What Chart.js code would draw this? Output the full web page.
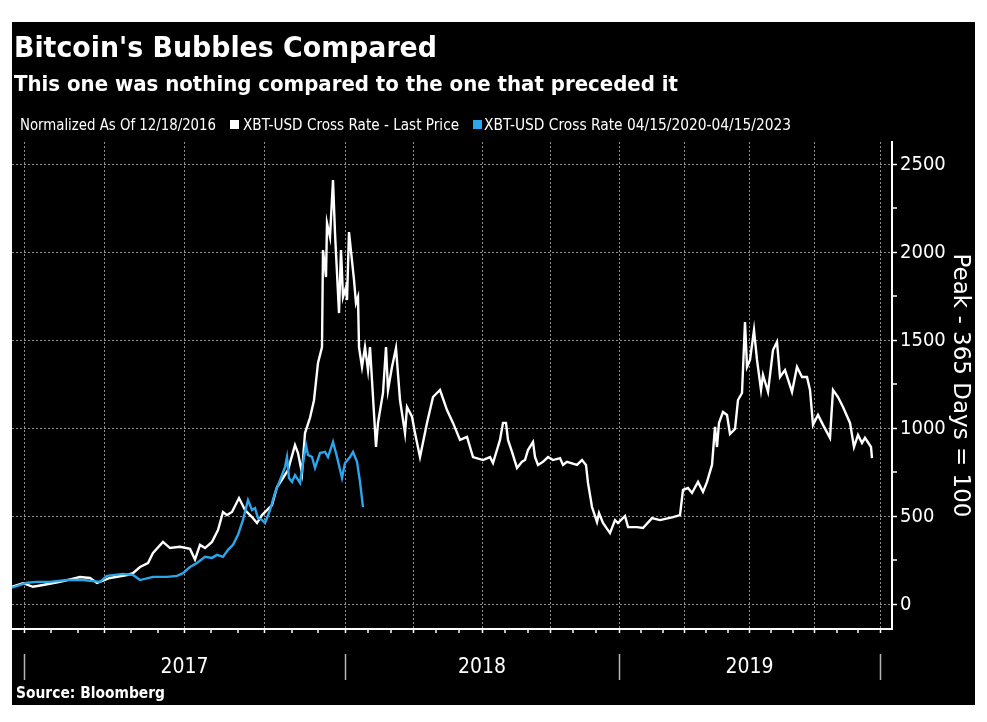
<!DOCTYPE html>
<html><head><meta charset="utf-8">
<script src="https://cdn.jsdelivr.net/npm/chart.js@4.4.1/dist/chart.umd.min.js"></script>
<style>
html,body{margin:0;padding:0;background:#fff;}
#wrap{position:relative;width:987px;height:722px;overflow:hidden;}
canvas{position:absolute;left:0;top:0;}
.t{position:absolute;white-space:nowrap;color:#fff;font-family:'DejaVu Sans Condensed','DejaVu Sans',sans-serif;line-height:1;transform-origin:0 0;}
.box{position:absolute;width:9px;height:9px;}
</style></head><body>
<div id="wrap">
<canvas id="c" width="987" height="722"></canvas>
<div class="t fit" data-w="423" style="left:14px;top:32.5px;font-size:29px;font-weight:bold;">Bitcoin's Bubbles Compared</div>
<div class="t fit" data-w="664" style="left:14px;top:72.5px;font-size:21.5px;font-weight:bold;">This one was nothing compared to the one that preceded it</div>
<div class="t fit" data-w="196" style="left:20px;top:116.5px;font-size:16px;">Normalized As Of 12/18/2016</div>
<div class="box" style="left:230px;top:120px;background:#fff;"></div>
<div class="t fit" data-w="216" style="left:243px;top:116.5px;font-size:16px;">XBT-USD Cross Rate - Last Price</div>
<div class="box" style="left:473px;top:120px;background:#2ba5ec;"></div>
<div class="t fit" data-w="307" style="left:484px;top:116.5px;font-size:16px;">XBT-USD Cross Rate 04/15/2020-04/15/2023</div>
<div class="t fit" data-w="149" style="left:16px;top:685.5px;font-size:15px;font-weight:bold;">Source: Bloomberg</div>
</div>
<script>
// ---- data ----
const yearLabels = ['2017', '2018', '2019'];
// observation positions of Jan 1 2017, 2018, 2019, 2020 on the (observation-based) x axis
const yearStarts = [12, 333, 607, 868];
const xMax = 880;
const yTicks = [0, 250, 500, 750, 1000, 1250, 1500, 1750, 2000, 2250, 2500];

const whiteX = [0,11,21,31,48,68,78,85,98,115,121,128,136,141,151,158,168,178,183,188,193,200,206,211,215,220,227,233,240,245,250,260,265,271,276,283,286,290,293,298,302,306,310,311,314,315,318,321,323,327,329,331,334,335,337,342,344,346,347,350,353,356,358,364,366,371,374,376,380,384,388,393,395,400,403,408,415,421,428,435,441,448,455,461,471,478,481,488,491,494,496,500,505,510,513,516,521,523,526,531,536,541,548,551,555,565,570,574,576,580,585,587,591,598,603,606,613,616,625,631,640,648,661,668,671,676,680,686,691,695,700,703,705,707,711,715,718,723,726,730,733,735,738,742,745,749,751,756,761,765,768,773,780,785,790,795,798,801,806,811,818,821,826,831,838,842,846,850,853,859,860];
const whiteY = [100,120,100,110,128,155,150,122,150,167,177,212,235,292,355,320,327,315,255,338,320,355,422,525,507,525,604,536,496,462,507,564,667,718,763,905,860,746,973,1060,1160,1372,1462,2013,1860,2166,2087,2411,2110,1655,2013,1746,1803,1729,2115,1843,1712,1746,1462,1349,1462,1331,1462,894,1031,1201,1462,1218,1349,1456,1161,973,1121,1066,973,837,1031,1178,1218,1104,1031,934,951,837,820,837,803,934,1031,1031,934,866,775,810,820,877,923,837,792,810,837,820,831,792,810,792,820,792,690,553,468,519,462,405,479,462,502,439,439,434,490,479,496,507,650,661,633,696,639,696,792,1008,894,1031,1093,1076,968,996,1161,1201,1604,1349,1389,1559,1389,1218,1303,1207,1445,1491,1292,1331,1207,1349,1292,1292,1218,1020,1076,1020,946,1218,1178,1121,1031,894,963,917,946,894,831];

const blueX = [0,15,25,38,55,71,88,95,111,121,128,141,155,165,171,178,185,193,200,205,211,216,221,226,231,236,240,243,246,250,253,258,263,268,273,275,277,280,283,288,291,294,296,300,303,308,313,316,321,325,330,333,338,341,345,348,351];
const blueY = [95,123,128,128,138,138,128,162,173,167,138,156,156,162,177,212,235,270,264,281,270,310,338,395,480,592,536,547,490,480,462,536,633,706,780,837,718,696,735,690,803,905,849,837,775,860,866,837,923,837,718,803,837,866,810,696,553];

// ---- chart ----
const monthTicks = [];
for (let y = 0; y < yearLabels.length; y++) {
  const span = (yearStarts[y + 1] - yearStarts[y]) / 12;
  for (let m = 0; m < 12; m++) monthTicks.push({ value: yearStarts[y] + m * span, q: m % 3 === 0 });
}
monthTicks.push({ value: yearStarts[yearStarts.length - 1], q: true });

const toPts = (xs, ys) => xs.map((x, i) => ({ x: x, y: ys[i] }));
const GRID = '#8f8f8f';
const narrow = "'Liberation Sans Narrow','DejaVu Sans Condensed',sans-serif";

const bgPlugin = {
  id: 'bg',
  beforeDraw(chart) {
    const c = chart.ctx;
    c.save();
    c.fillStyle = '#fff';
    c.fillRect(0, 0, chart.width, chart.height);
    c.fillStyle = '#000';
    c.fillRect(12, 22, 963, 683);
    c.restore();
  },
  afterDraw(chart) {
    const c = chart.ctx, sx = chart.scales.x, sy = chart.scales.years;
    c.save();
    c.strokeStyle = '#b5b5b5';
    c.lineWidth = 1.5;
    yearStarts.forEach(v => {
      const px = Math.round(sx.getPixelForValue(v)) + 0.5;
      c.beginPath();
      c.moveTo(px, sy.top + 3);
      c.lineTo(px, sy.top + 29);
      c.stroke();
    });
    c.restore();
  }
};

new Chart(document.getElementById('c'), {
  type: 'line',
  data: {
    datasets: [
      { label: 'XBT-USD Cross Rate - Last Price', data: toPts(whiteX, whiteY), borderColor: '#ffffff', borderWidth: 2.4, pointRadius: 0, tension: 0, order: 1 },
      { label: 'XBT-USD Cross Rate 04/15/2020-04/15/2023', data: toPts(blueX, blueY), borderColor: '#2ba5ec', borderWidth: 2.4, pointRadius: 0, tension: 0, order: 0 }
    ]
  },
  options: {
    responsive: false,
    animation: false,
    devicePixelRatio: 1,
    layout: { padding: { left: 12, right: 12, top: 142, bottom: 0 } },
    plugins: { legend: { display: false }, tooltip: { enabled: false } },
    scales: {
      x: {
        type: 'linear', min: 0, max: xMax, position: 'bottom', weight: 0,
        afterBuildTicks: s => { s.ticks = monthTicks.map(t => ({ value: t.value })); },
        afterFit: s => { s.height = 22; },
        ticks: { display: false },
        grid: {
          lineWidth: ctx => (monthTicks[ctx.index] && monthTicks[ctx.index].q) ? 1 : 0,
          color: GRID, tickColor: '#ffffff', tickWidth: 1.5, tickLength: 4
        },
        border: { display: true, color: '#ffffff', width: 2, dash: [2, 2] }
      },
      years: {
        type: 'linear', min: 0, max: xMax, position: 'bottom', weight: 1,
        afterBuildTicks: s => { s.ticks = yearLabels.map((l, i) => ({ value: (yearStarts[i] + yearStarts[i + 1]) / 2 })); },
        afterFit: s => { s.height = 71; },
        ticks: { callback: (v, i) => yearLabels[i], color: '#ffffff', font: { family: narrow, size: 21 }, padding: 4, autoSkip: false, maxRotation: 0 },
        grid: { display: false, drawTicks: false },
        border: { display: false }
      },
      y: {
        type: 'linear', position: 'right', min: -140, max: 2627,
        afterBuildTicks: s => { s.ticks = yTicks.map(v => ({ value: v })); },
        afterFit: s => { s.width = 83; },
        ticks: { callback: v => (v % 500 === 0 ? String(v) : ''), color: '#ffffff', font: { family: narrow, size: 20 }, padding: 3, autoSkip: false },
        grid: {
          lineWidth: ctx => (ctx.tick && ctx.tick.value % 500 === 0) ? 1 : 0,
          color: GRID, tickColor: '#ffffff', tickWidth: 1.5, tickLength: 5
        },
        border: { display: true, color: '#ffffff', width: 2, dash: [2, 2] },
        title: { display: true, text: 'Peak - 365 Days = 100', color: '#ffffff', font: { family: "'DejaVu Sans',sans-serif", size: 23 }, padding: { top: 1, bottom: 1 } }
      }
    }
  },
  plugins: [bgPlugin]
});

function fitTexts() {
  document.querySelectorAll('.fit').forEach(el => {
    el.style.transform = 'none';
    const w = el.getBoundingClientRect().width;
    const target = parseFloat(el.dataset.w);
    if (w > 0) el.style.transform = 'scaleX(' + (target / w) + ')';
  });
}
fitTexts();
if (document.fonts && document.fonts.ready) document.fonts.ready.then(fitTexts);
</script>
</body></html>
